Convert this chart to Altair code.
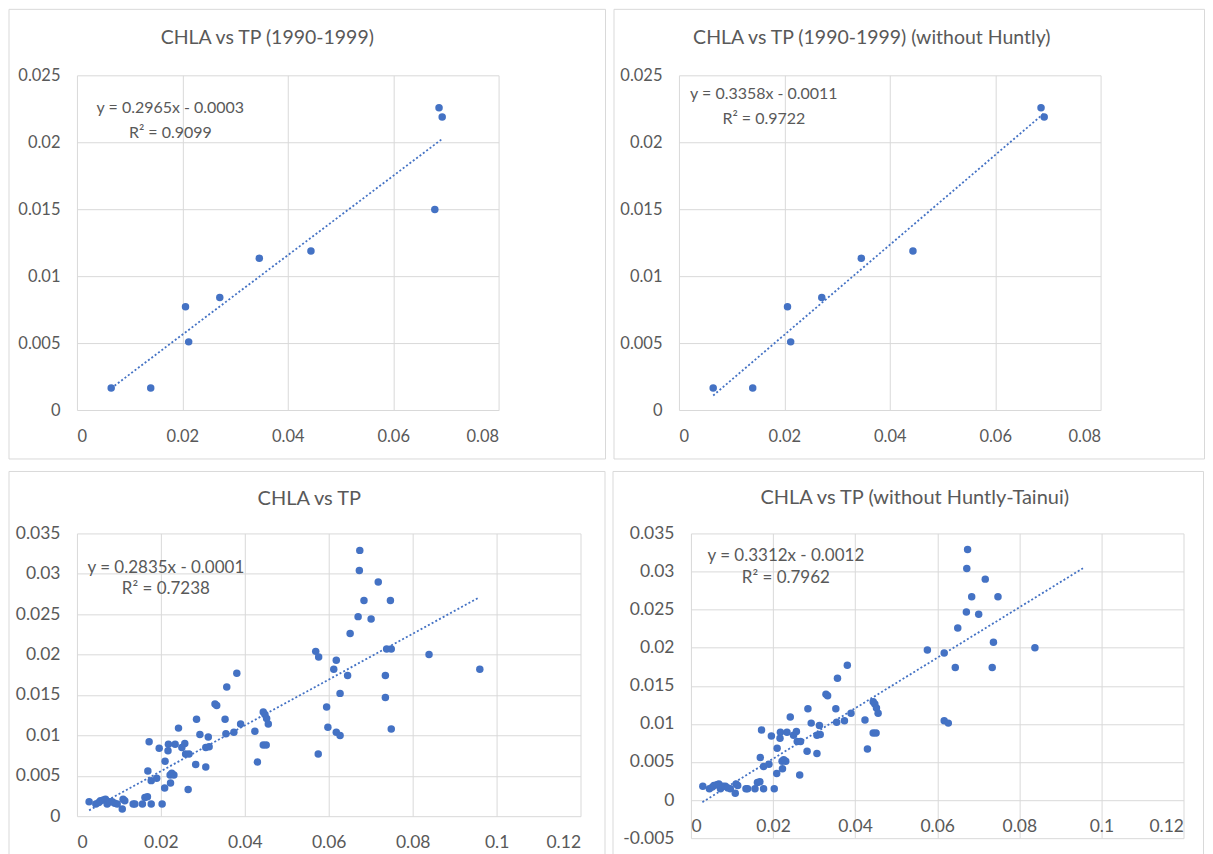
import altair as alt
import pandas as pd

BLUE = "#4472C4"
GRID = "#D9D9D9"
TEXT = "#595959"
FONT = "Lato"

# ---------------- data ----------------
# Top panels: CHLA vs TP (1990-1999)
top_tp = [0.0065, 0.0140, 0.0206, 0.0212, 0.0271, 0.0346, 0.0444, 0.0679, 0.0687, 0.0693]
top_chla = [0.00164, 0.00164, 0.00772, 0.00509, 0.00841, 0.01134, 0.01188, 0.01498, 0.02257, 0.02188]
# same period without Huntly
top_nohuntly_tp = [0.0065, 0.0140, 0.0206, 0.0212, 0.0271, 0.0346, 0.0444, 0.0687, 0.0693]
top_nohuntly_chla = [0.00164, 0.00164, 0.00772, 0.00509, 0.00841, 0.01134, 0.01188, 0.02257, 0.02188]

# Bottom panels: points shared by both (TP < 0.05)
base_tp = [0.0029, 0.0045, 0.0052, 0.0056, 0.0063, 0.0068, 0.0072, 0.0078, 0.0084, 0.0090,
           0.0096, 0.0108, 0.0110, 0.0114, 0.0134, 0.0138, 0.0156, 0.0162, 0.0168, 0.0177,
           0.0203,
           0.0169, 0.0177, 0.0190, 0.0209, 0.0223, 0.0222, 0.0231, 0.0226, 0.0265, 0.0210,
           0.0283, 0.0307, 0.0172, 0.0196, 0.0217, 0.0218, 0.0234, 0.0257, 0.0250, 0.0259,
           0.0267, 0.0307, 0.0315, 0.0242, 0.0293, 0.0313, 0.0285, 0.0329, 0.0333, 0.0353,
           0.0355, 0.0374, 0.0357, 0.0381, 0.0390, 0.0424, 0.0430, 0.0444, 0.0448, 0.0452,
           0.0456, 0.0444, 0.0451]
base_chla = [0.0018, 0.0015, 0.0017, 0.0019, 0.0020, 0.0021, 0.0015, 0.0018, 0.0018, 0.0016,
             0.0015, 0.0009, 0.0021, 0.0019, 0.0015, 0.0015, 0.0015, 0.0023, 0.0024, 0.0015,
             0.0015,
             0.0056, 0.0044, 0.0047, 0.0035, 0.0041, 0.0051, 0.0051, 0.0053, 0.0033, 0.0068,
             0.0064, 0.0061, 0.0092, 0.0084, 0.0081, 0.0089, 0.0089, 0.0090, 0.0085, 0.0077,
             0.0077, 0.0085, 0.0086, 0.0109, 0.0101, 0.0098, 0.0120, 0.0139, 0.0137, 0.0120,
             0.0102, 0.0104, 0.0160, 0.0177, 0.0114, 0.0105, 0.0067, 0.0129, 0.0126, 0.0121,
             0.0114, 0.0088, 0.0088]
# high-TP points, all sites
all_extra_tp = [0.0674, 0.0673, 0.0718, 0.0684, 0.0747, 0.0670, 0.0701, 0.0651, 0.0569, 0.0576,
                0.0618, 0.0612, 0.0645, 0.0738, 0.0749, 0.0839, 0.0960, 0.0735, 0.0627, 0.0735,
                0.0595, 0.0598, 0.0618, 0.0627, 0.0749, 0.0575]
all_extra_chla = [0.0329, 0.0304, 0.0290, 0.0267, 0.0267, 0.0247, 0.0244, 0.0226, 0.0204, 0.0197,
                  0.0193, 0.0182, 0.0174, 0.0207, 0.0207, 0.0200, 0.0182, 0.0174, 0.0152, 0.0147,
                  0.0135, 0.0110, 0.0104, 0.0100, 0.0108, 0.0077]
# high-TP points without Huntly-Tainui
sub_extra_tp = [0.0674, 0.0672, 0.0717, 0.0684, 0.0748, 0.0671, 0.0701, 0.0650, 0.0576, 0.0617,
                0.0737, 0.0838, 0.0644, 0.0734, 0.0617, 0.0627]
sub_extra_chla = [0.0329, 0.0304, 0.0290, 0.0267, 0.0267, 0.0247, 0.0244, 0.0226, 0.0197, 0.0193,
                  0.0207, 0.0200, 0.0174, 0.0174, 0.0104, 0.0101]

titles = ["CHLA vs TP (1990-1999)", "CHLA vs TP (1990-1999) (without Huntly)",
          "CHLA vs TP", "CHLA vs TP (without Huntly-Tainui)"]
equations = ["y = 0.2965x - 0.0003", "y = 0.3358x - 0.0011",
             "y = 0.2835x - 0.0001", "y = 0.3312x - 0.0012"]
r_squared = ["R² = 0.9099", "R² = 0.9722", "R² = 0.7238", "R² = 0.7962"]
slopes = [0.2965, 0.3358, 0.2835, 0.3312]
intercepts = [-0.0003, -0.0011, -0.0001, -0.0012]
trend_ranges = [[0.0065, 0.0692], [0.0065, 0.0693], [0.0029, 0.0956], [0.0028, 0.0955]]

x_ticks_top = [0, 0.02, 0.04, 0.06, 0.08]
y_ticks_top = [0, 0.005, 0.01, 0.015, 0.02, 0.025]
x_ticks_bottom = [0, 0.02, 0.04, 0.06, 0.08, 0.1, 0.12]
y_ticks_bl = [0, 0.005, 0.01, 0.015, 0.02, 0.025, 0.03, 0.035]
y_ticks_br = [-0.005, 0, 0.005, 0.01, 0.015, 0.02, 0.025, 0.03, 0.035]


def one_text(txt, x, y, size):
    return alt.Chart(pd.DataFrame({"t": [txt]})).mark_text(
        font=FONT, fontSize=size, color=TEXT, align="center", baseline="middle"
    ).encode(text="t:N", x=alt.value(x), y=alt.value(y))


def panel(i, tp, chla, xticks, yticks, w, h, eq_x, eq_y, eq_size, border,
          title_xy, title_size, tick_size, x_label_pad, x_axis_offset=0):
    df = pd.DataFrame({"tp": tp, "chla": chla})
    xs = alt.Scale(domain=[xticks[0], xticks[-1]], nice=False, zero=False)
    ys = alt.Scale(domain=[yticks[0], yticks[-1]], nice=False, zero=False)
    xax = alt.Axis(values=xticks, tickCount=30, labelExpr="'' + datum.value",
                   labelPadding=x_label_pad, labelFontSize=tick_size, offset=x_axis_offset,
                   labelOverlap=False, title=None)
    yax = alt.Axis(values=yticks, tickCount=30, labelExpr="'' + datum.value",
                   labelPadding=17, labelFontSize=tick_size, labelOverlap=False, title=None)

    frame = alt.Chart(pd.DataFrame({"k": [0]})).mark_rect(
        fillOpacity=0, stroke=GRID, strokeWidth=1
    ).encode(x=alt.value(border[0]), x2=alt.value(border[1]),
             y=alt.value(border[2]), y2=alt.value(border[3]))

    pts = alt.Chart(df).mark_circle(size=56, color=BLUE, opacity=1).encode(
        x=alt.X("tp:Q", scale=xs, axis=xax),
        y=alt.Y("chla:Q", scale=ys, axis=yax),
    )
    trend = alt.Chart(pd.DataFrame({"tp": trend_ranges[i]})).transform_calculate(
        chla=f"{slopes[i]} * datum.tp + ({intercepts[i]})"
    ).mark_line(color=BLUE, strokeWidth=1.8, strokeDash=[2, 2.2]).encode(
        x=alt.X("tp:Q", scale=xs), y=alt.Y("chla:Q", scale=ys)
    )
    title = one_text(titles[i], title_xy[0], title_xy[1], title_size)
    eq1 = one_text(equations[i], eq_x, eq_y[0], eq_size)
    eq2 = one_text(r_squared[i], eq_x, eq_y[1], eq_size)

    return alt.layer(frame, trend, pts, title, eq1, eq2).properties(width=w, height=h)


tl = panel(0, top_tp, top_chla, x_ticks_top, y_ticks_top, 422, 335,
           93.5, [33, 58], 16, [-68, 529, -66, 384], [190.5, -37.5], 19.5, 16.5, 19)
tr = panel(1, top_nohuntly_tp, top_nohuntly_chla, x_ticks_top, y_ticks_top, 422, 335,
           85, [19, 44], 16, [-65, 526, -66, 384], [193, -37], 19.5, 16.5, 19)
bl = panel(2, base_tp + all_extra_tp, base_chla + all_extra_chla, x_ticks_bottom, y_ticks_bl,
           504, 283, 89, [35, 56], 17, [-68, 528.5, -62, 322], [232.5, -34], 20, 17.5, 17)
br = panel(3, base_tp + sub_extra_tp, base_chla + sub_extra_chla, x_ticks_bottom, y_ticks_br,
           493, 305, 95, [23, 45], 17, [-78, 513, -62, 322], [224, -35], 20, 17.5, 17,
           x_axis_offset=-305 * 0.125)

top_row = alt.hconcat(tl, tr, spacing=6.5)
bottom_row = alt.hconcat(bl, br, spacing=6.5)

chart = alt.vconcat(top_row, bottom_row, spacing=10.5).properties(
    padding=0, background="white"
).configure_view(stroke=None).configure_axis(
    grid=True, gridColor=GRID, gridWidth=1, domain=False, ticks=False,
    labelFont=FONT, labelColor=TEXT,
)

chart.save("out.html", embed_options={"renderer": "svg", "actions": False})
